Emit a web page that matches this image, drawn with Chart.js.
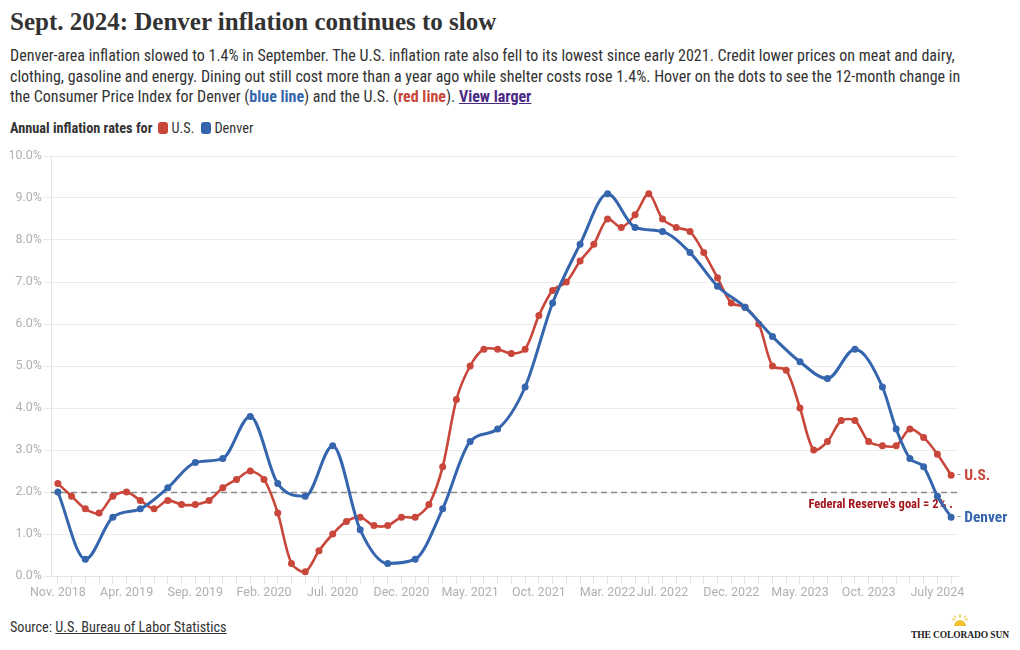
<!DOCTYPE html>
<html><head><meta charset="utf-8">
<script src="https://cdn.jsdelivr.net/npm/chart.js@4.4.1/dist/chart.umd.min.js"></script>
<style>
body{margin:0;background:#fff;width:1020px;height:650px;overflow:hidden;position:relative;color:#333;font-family:"Liberation Sans Narrow","Roboto Condensed",Roboto,sans-serif}
#title{position:absolute;left:10px;top:8px;font-family:"Liberation Serif",serif;font-weight:bold;font-size:25px;color:#333;white-space:nowrap}
#sub{position:absolute;left:10px;top:46px;font-size:16px;line-height:20.7px;color:#333;white-space:nowrap}
#sub b.blue{color:#3465ad}#sub b.red{color:#c9473a}
#sub a{color:#4b2a85;font-weight:bold;text-decoration:underline}
#legend{position:absolute;left:10px;top:120px;font-size:14.3px;white-space:nowrap;display:flex;align-items:center}
#legend b{margin-right:6px}
.sw{display:inline-block;width:10px;height:12px;border-radius:3px;margin-right:3px}
.it{margin-right:7px;display:flex;align-items:center}
#wrap{position:absolute;left:0;top:139px;width:1020px;height:470px}
#src{position:absolute;left:10px;top:619px;font-size:14.2px;color:#333}
#src u{text-decoration:underline}
#logo{position:absolute;left:908px;top:611px;width:104px;text-align:center}
#logo div{font-family:"Liberation Serif",serif;font-weight:bold;font-size:9.5px;color:#222;letter-spacing:-0.1px;white-space:nowrap}
</style></head><body>
<div id="title">Sept. 2024: Denver inflation continues to slow</div>
<div id="sub">Denver-area inflation slowed to 1.4% in September. The U.S. inflation rate also fell to its lowest since early 2021. Credit lower prices on meat and dairy,<br>clothing, gasoline and energy. Dining out still cost more than a year ago while shelter costs rose 1.4%. Hover on the dots to see the 12-month change in<br>the Consumer Price Index for Denver (<b class="blue">blue line</b>) and the U.S. (<b class="red">red line</b>). <a>View larger</a></div>
<div id="legend"><b>Annual inflation rates for</b><span class="it"><span class="sw" style="background:#c9473a"></span>U.S.</span><span class="it"><span class="sw" style="background:#3465ad"></span>Denver</span></div>
<div id="wrap"><canvas id="c"></canvas></div>
<div id="src">Source: <u>U.S. Bureau of Labor Statistics</u></div>
<div id="logo"><svg width="20" height="12" viewBox="0 0 20 12"><g fill="#f2c230"><path d="M4 12a6 6 0 0 1 12 0z"/><rect x="9.3" y="0" width="1.4" height="4"/><rect x="2" y="5" width="3" height="1.2" transform="rotate(30 3.5 5.6)"/><rect x="15" y="5" width="3" height="1.2" transform="rotate(-30 16.5 5.6)"/><rect x="4.5" y="1.5" width="1.2" height="3" transform="rotate(-35 5.1 3)"/><rect x="14.3" y="1.5" width="1.2" height="3" transform="rotate(35 14.9 3)"/></g></svg><div>THE COLORADO SUN</div></div>
<script>
const categories = [
 "Nov. 2018","Dec. 2018",
 "Jan. 2019","Feb. 2019","Mar. 2019","Apr. 2019","May. 2019","Jun. 2019","Jul. 2019","Aug. 2019","Sep. 2019","Oct. 2019","Nov. 2019","Dec. 2019",
 "Jan. 2020","Feb. 2020","Mar. 2020","Apr. 2020","May. 2020","Jun. 2020","Jul. 2020","Aug. 2020","Sep. 2020","Oct. 2020","Nov. 2020","Dec. 2020",
 "Jan. 2021","Feb. 2021","Mar. 2021","Apr. 2021","May. 2021","Jun. 2021","Jul. 2021","Aug. 2021","Sep. 2021","Oct. 2021","Nov. 2021","Dec. 2021",
 "Jan. 2022","Feb. 2022","Mar. 2022","Apr. 2022","May. 2022","Jun. 2022","Jul. 2022","Aug. 2022","Sep. 2022","Oct. 2022","Nov. 2022","Dec. 2022",
 "Jan. 2023","Feb. 2023","Mar. 2023","Apr. 2023","May. 2023","Jun. 2023","Jul. 2023","Aug. 2023","Sep. 2023","Oct. 2023","Nov. 2023",
 "Jan. 2024","Mar. 2024","May. 2024","July 2024","Sep. 2024"
];
const tickLabels = ["Nov. 2018","Apr. 2019","Sep. 2019","Feb. 2020","Jul. 2020","Dec. 2020","May. 2021","Oct. 2021","Mar. 2022","Jul. 2022","Dec. 2022","May. 2023","Oct. 2023","July 2024"];
const usValues = [
 2.2,1.9,
 1.6,1.5,1.9,2.0,1.8,1.6,1.8,1.7,1.7,1.8,2.1,2.3,
 2.5,2.3,1.5,0.3,0.1,0.6,1.0,1.3,1.4,1.2,1.2,1.4,
 1.4,1.7,2.6,4.2,5.0,5.4,5.4,5.3,5.4,6.2,6.8,7.0,
 7.5,7.9,8.5,8.3,8.6,9.1,8.5,8.3,8.2,7.7,7.1,6.5,
 6.4,6.0,5.0,4.9,4.0,3.0,3.2,3.7,3.7,3.2,3.1,
 3.1,3.5,3.3,2.9,2.4
];
const denverValues = [
 2.0,null,
 0.4,null,1.4,null,1.6,null,2.1,null,2.7,null,2.8,null,
 3.8,null,2.2,null,1.9,null,3.1,null,1.1,null,0.3,null,
 0.4,null,1.6,null,3.2,null,3.5,null,4.5,null,6.5,null,
 7.9,null,9.1,null,8.3,null,8.2,null,7.7,null,6.9,null,
 6.4,null,5.7,null,5.1,null,4.7,null,5.4,null,4.5,
 3.5,2.8,2.6,1.9,1.4
];
const goalValue = 2;
const goalText = "Federal Reserve's goal = 2% .";
const US_COLOR = "#c9473a", DEN_COLOR = "#3465ad";

const extras = {
  id:'extras',
  beforeDatasetsDraw(chart){
    const {ctx, chartArea:a, scales:{y}} = chart;
    const py = Math.round(y.getPixelForValue(goalValue))+0.5;
    ctx.save();
    ctx.strokeStyle = '#8a8a8a'; ctx.lineWidth = 1.3; ctx.setLineDash([6,4]);
    ctx.beginPath(); ctx.moveTo(a.left, py); ctx.lineTo(a.right, py); ctx.stroke();
    ctx.setLineDash([]);
    ctx.font = 'bold 12.5px "Liberation Sans Narrow","Roboto Condensed",Roboto,sans-serif';
    ctx.fillStyle = '#a3161c'; ctx.textAlign='right'; ctx.textBaseline='middle';
    ctx.fillText(goalText, a.right-5, py+12);
    ctx.restore();
  },
  afterDatasetsDraw(chart){
    const {ctx} = chart;
    ctx.save();
    ctx.textBaseline='middle'; ctx.textAlign='left';
    chart.data.datasets.forEach((ds,i)=>{
      const meta = chart.getDatasetMeta(i);
      const pt = meta.data[meta.data.length-1];
      ctx.fillStyle = '#999'; ctx.font = '13px Roboto,sans-serif';
      ctx.fillText('-', pt.x+6, pt.y);
      ctx.fillStyle = ds.borderColor;
      ctx.font = 'bold 15.5px "Liberation Sans Narrow","Roboto Condensed",Roboto,sans-serif';
      ctx.fillText(ds.label, pt.x+13, pt.y+1);
    });
    ctx.restore();
  }
};

new Chart(document.getElementById('c'), {
  type:'line',
  data:{
    labels: categories,
    datasets:[
      {label:'Denver', data:denverValues, borderColor:DEN_COLOR, backgroundColor:DEN_COLOR, borderWidth:3, pointRadius:3.5, pointBorderWidth:0, cubicInterpolationMode:'monotone', spanGaps:true, order:0},
      {label:'U.S.', data:usValues, borderColor:US_COLOR, backgroundColor:US_COLOR, borderWidth:2.6, pointRadius:3.5, pointBorderWidth:0, tension:0.3, order:1}
    ]
  },
  options:{
    responsive:true, maintainAspectRatio:false, animation:false,
    layout:{padding:{top:17,right:62,left:0,bottom:0}},
    plugins:{legend:{display:false},tooltip:{enabled:false}},
    scales:{
      x:{
        offset:true,
        grid:{drawOnChartArea:false, drawTicks:true, tickLength:8, color:'#e3e3e3'},
        border:{color:'#e3e3e3'},
        ticks:{autoSkip:false, maxRotation:0, padding:1, color:'#b0b0b0', font:{family:'Roboto', size:12.5},
          callback(v,i){ const l = categories[i]; return tickLabels.includes(l) ? l : ''; }},
        afterFit(s){ s.height = 33; }
      },
      y:{
        min:0, max:10,
        grid:{color:'#ececec', tickLength:8},
        border:{color:'#e3e3e3'},
        ticks:{stepSize:1, padding:1, color:'#b0b0b0', font:{family:'Roboto', size:12.5}, callback:v=>v.toFixed(1)+'%'},
        afterFit(s){ s.width = 51; }
      }
    }
  },
  plugins:[extras]
});
</script>
</body></html>
